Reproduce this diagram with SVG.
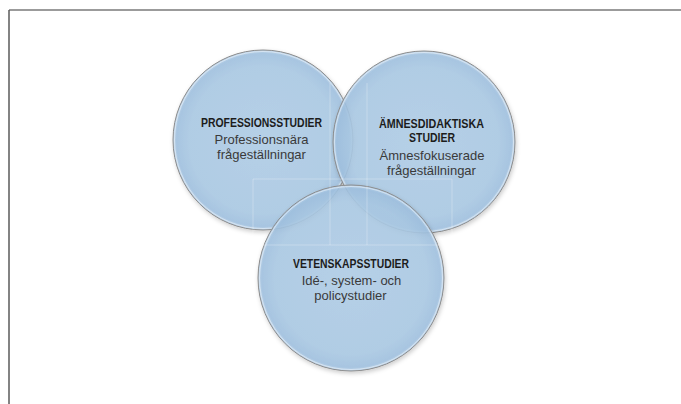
<svg xmlns="http://www.w3.org/2000/svg" width="681" height="404" viewBox="0 0 681 404">
  <style>
    .c { stroke: #8c8c8c; stroke-width: 1; }
    .hl { fill: none; stroke: #ffffff; stroke-opacity: 0.45; stroke-width: 1; }
    .b { font-family: "Liberation Sans", Arial, sans-serif; font-weight: bold; font-size: 13px; fill: #1c1c1c; text-anchor: middle; }
    .t { font-family: "Liberation Sans", Arial, sans-serif; font-size: 13px; fill: #3a3a3a; text-anchor: middle; }
    .g { stroke: #ffffff; stroke-opacity: 0.28; stroke-width: 1; fill: none; }
  </style>
  <defs>
    <radialGradient id="fillg" cx="0.5" cy="0.5" r="0.5">
      <stop offset="0" stop-color="#b0cde7"/>
      <stop offset="0.82" stop-color="#aac9e4"/>
      <stop offset="0.96" stop-color="#a0c1e0"/>
      <stop offset="1" stop-color="#b9d2ea"/>
    </radialGradient>
    <filter id="sh" x="-20%" y="-20%" width="140%" height="140%">
      <feDropShadow dx="1" dy="2" stdDeviation="2" flood-color="#000" flood-opacity="0.22"/>
    </filter>
  </defs>
  <rect width="681" height="404" fill="#ffffff"/>
  <g id="frame">
    <line x1="9" y1="10" x2="681" y2="10" stroke="#7a7a7a" stroke-width="1.5"/>
    <line x1="9" y1="10" x2="9" y2="404" stroke="#5a5a5a" stroke-width="1.5"/>
  </g>
  <g id="node-professionsstudier">
    <circle class="c" cx="263" cy="140" r="90" fill="url(#fillg)" fill-opacity="0.88" filter="url(#sh)"/>
    <circle class="hl" cx="263" cy="140" r="88.5"/>
  </g>
  <g id="node-amnesdidaktiska">
    <circle class="c" cx="424" cy="142" r="91" fill="url(#fillg)" fill-opacity="0.88" filter="url(#sh)"/>
    <circle class="hl" cx="424" cy="142" r="89.5"/>
  </g>
  <g id="node-vetenskapsstudier">
    <circle class="c" cx="351" cy="278" r="93" fill="url(#fillg)" fill-opacity="0.88" filter="url(#sh)"/>
    <circle class="hl" cx="351" cy="278" r="91.5"/>
  </g>
  <g id="guides">
    <line class="g" x1="330" y1="83" x2="330" y2="245"/>
    <line class="g" x1="367" y1="83" x2="367" y2="245"/>
    <line class="g" x1="253" y1="179" x2="452" y2="179"/>
    <line class="g" x1="253" y1="245" x2="452" y2="245"/>
    <line class="g" x1="253" y1="179" x2="253" y2="245"/>
    <line class="g" x1="452" y1="179" x2="452" y2="245"/>
  </g>
  <g id="connectors"></g>
  <g id="labels">
    <text class="b" x="261.5" y="127" textLength="121" lengthAdjust="spacingAndGlyphs">PROFESSIONSSTUDIER</text>
    <text class="t" x="261.5" y="144">Professionsnära</text>
    <text class="t" x="261.5" y="159">frågeställningar</text>
    <text class="b" x="431.5" y="128" textLength="105" lengthAdjust="spacingAndGlyphs">ÄMNESDIDAKTISKA</text>
    <text class="b" x="432" y="142" textLength="46" lengthAdjust="spacingAndGlyphs">STUDIER</text>
    <text class="t" x="432" y="160">Ämnesfokuserade</text>
    <text class="t" x="431.5" y="175">frågeställningar</text>
    <text class="b" x="351" y="268" textLength="116" lengthAdjust="spacingAndGlyphs">VETENSKAPSSTUDIER</text>
    <text class="t" x="351.5" y="285">Idé-, system- och</text>
    <text class="t" x="350.5" y="300">policystudier</text>
  </g>
</svg>
